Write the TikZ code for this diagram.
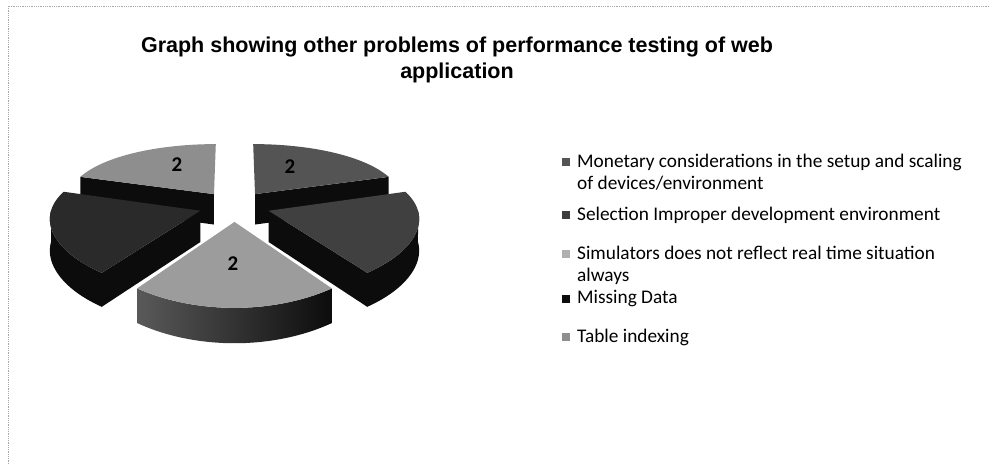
\documentclass[tikz,border=0pt]{standalone}
\usepackage{fontspec}
\setmainfont{Carlito}
\newfontfamily\titlefont{Liberation Sans}
\definecolor{topMon}{HTML}{545454}
\definecolor{topSel}{HTML}{404040}
\definecolor{topSim}{HTML}{9C9C9C}
\definecolor{topMis}{HTML}{2A2A2A}
\definecolor{topTab}{HTML}{8E8E8E}
\definecolor{sideDark}{HTML}{0C0C0C}
\definecolor{frameGray}{HTML}{A8A8A8}
\tikzset{
  declare function={
    PX(\u,\w)=234.5+148.3*\u/(1+0.1*\w);
    PY(\w,\h)=206-63.3*\w/(1+0.185*\w)+31*\h/(1+0.1*\w);
  },
  legtext/.style={anchor=west, inner sep=0pt, align=left, font=\fontsize{19.3}{22}\selectfont},
  legmark/.style={minimum size=8.5pt, inner sep=0pt},
  valuelabel/.style={font=\bfseries\fontsize{21}{21}\selectfont, inner sep=0pt},
}
\newcommand\pieslice[5]{%
  \pgfmathsetmacro\mm{(#1+#2)/2}%
  \pgfmathsetmacro\ou{0.24*sin(\mm)}%
  \pgfmathsetmacro\ow{0.24*cos(\mm)}%
  \pgfmathtruncatemacro\visa{sin(#1)<-0.01}%
  \pgfmathtruncatemacro\visb{sin(#2)>0.01}%
  \ifnum\visa=1
    \fill[#4] ({PX(\ou,\ow)},{PY(\ow,0)}) -- ({PX(\ou+sin(#1),\ow+cos(#1))},{PY(\ow+cos(#1),0)})
      -- ({PX(\ou+sin(#1),\ow+cos(#1))},{PY(\ow+cos(#1),1)}) -- ({PX(\ou,\ow)},{PY(\ow,1)}) -- cycle;
  \fi
  \ifnum\visb=1
    \fill[#4] ({PX(\ou,\ow)},{PY(\ow,0)}) -- ({PX(\ou+sin(#2),\ow+cos(#2))},{PY(\ow+cos(#2),0)})
      -- ({PX(\ou+sin(#2),\ow+cos(#2))},{PY(\ow+cos(#2),1)}) -- ({PX(\ou,\ow)},{PY(\ow,1)}) -- cycle;
  \fi
  \pgfmathsetmacro\lo{max(#1,90)}%
  \pgfmathsetmacro\hi{min(#2,270)}%
  \pgfmathtruncatemacro\viso{\lo<\hi}%
  \ifnum\viso=1
    \path[#5] plot[domain=\lo:\hi,samples=30] ({PX(\ou+sin(\x),\ow+cos(\x))},{PY(\ow+cos(\x),0)})
      -- plot[domain=\hi:\lo,samples=30] ({PX(\ou+sin(\x),\ow+cos(\x))},{PY(\ow+cos(\x),1)}) -- cycle;
  \fi
  \fill[#3] ({PX(\ou,\ow)},{PY(\ow,0)}) -- plot[domain=#1:#2,samples=40] ({PX(\ou+sin(\x),\ow+cos(\x))},{PY(\ow+cos(\x),0)}) -- cycle;
}
\begin{document}
\begin{tikzpicture}[x=1pt,y=-1pt]
\useasboundingbox (0,0) rectangle (989,464);
\fill[white] (0,0) rectangle (989,464);
% frame
\draw[frameGray, line width=0.8pt, densely dotted] (8,464) -- (8,6) -- (989,6);
% title
\node[align=center, font=\titlefont\bfseries\fontsize{21.5}{26}\selectfont] (title) at (457,60)
  {Graph showing other problems of performance testing of web\\application};
% pie (far slices first)
\pieslice{288}{360}{topTab}{sideDark}{fill=sideDark}
\pieslice{0}{72}{topMon}{sideDark}{fill=sideDark}
\pieslice{216}{288}{topMis}{sideDark}{fill=sideDark}
\pieslice{72}{144}{topSel}{sideDark}{fill=sideDark}
\pieslice{144}{216}{topSim}{sideDark}{left color=gray!70!black, right color=sideDark}
% value labels
\node[valuelabel] (v5) at (177,165) {2};
\node[valuelabel] (v1) at (290,167) {2};
\node[valuelabel] (v3) at (233,264) {2};
% legend
\node[legmark, fill=topMon] (m1) at (566,162) {};
\node[legtext] (t1) at (577,172) {Monetary considerations in the setup and scaling\\of devices/environment};
\node[legmark, fill=sideDark!80!white] (m2) at (566,215) {};
\node[legtext] (t2) at (577,215) {Selection Improper development environment};
\node[legmark, fill=topSim!80!white] (m3) at (566,254) {};
\node[legtext] (t3) at (577,265) {Simulators does not reflect real time situation\\always};
\node[legmark, fill=sideDark] (m4) at (566,299) {};
\node[legtext] (t4) at (577,299) {Missing Data};
\node[legmark, fill=topTab] (m5) at (566,337) {};
\node[legtext] (t5) at (577,337) {Table indexing};
\end{tikzpicture}
\end{document}
